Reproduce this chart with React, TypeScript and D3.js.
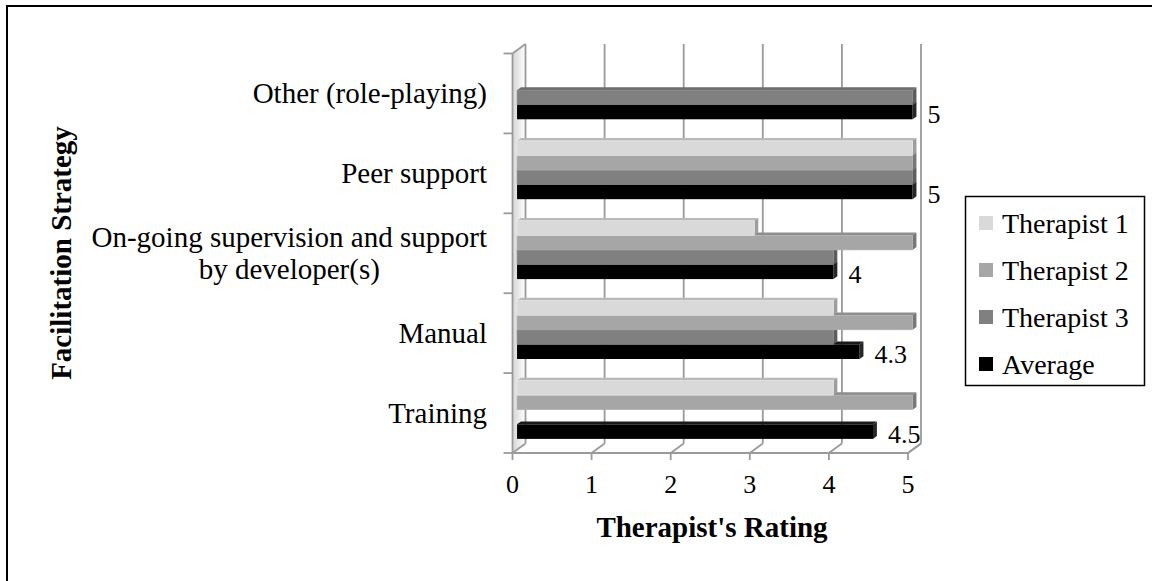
import React, { useRef, useEffect } from 'react';
import * as d3 from 'd3';

// Chart data
const categories = [
  'Other (role-playing)',
  'Peer support',
  'On-going supervision and support\nby developer(s)',
  'Manual',
  'Training',
];
const seriesNames = ['Therapist 1', 'Therapist 2', 'Therapist 3', 'Average'];
const therapist1: (number | null)[] = [null, 5, 3, 4, 4];
const therapist2: (number | null)[] = [null, 5, 5, 5, 5];
const therapist3: (number | null)[] = [5, 5, 4, 4, null];
const average: (number | null)[] = [5, 5, 4, 4.33, 4.5];
const averageLabels = ['5', '5', '4', '4.3', '4.5'];
const xTicks = [0, 1, 2, 3, 4, 5];
const colors = ['#d9d9d9', '#a6a6a6', '#808080', '#000000'];

const FONT = '"Liberation Serif", "Times New Roman", serif';

const App = () => {
  const svgRef = useRef<SVGSVGElement | null>(null);

  useEffect(() => {
    if (!svgRef.current) return;
    const svg = d3.select(svgRef.current);
    svg.selectAll('*').remove();

    const width = 1152;
    const height = 581;
    const values = [therapist1, therapist2, therapist3, average];

    // front plane of the 3D box
    const left = 512.5, right = 908, top = 53.5, bottom = 453;
    // depth offset of the back wall
    const depthX = 13, depthY = 9.5;
    const t0 = 0.35, t1 = 0.65; // depth range of the bars

    const x = d3.scaleLinear().domain([0, 5]).range([left, right]);
    const y = d3.scaleBand<string>()
      .domain(categories)
      .range([top, bottom])
      .paddingInner(0.27)
      .paddingOuter(0.135);
    const yInner = d3.scaleBand<string>()
      .domain(seriesNames)
      .range([0, y.bandwidth()]);
    const step = (bottom - top) / categories.length;

    svg.attr('width', width).attr('height', height);

    svg.append('rect')
      .attr('width', width).attr('height', height)
      .attr('fill', '#fff');

    // outer chart border (only top & left visible)
    svg.append('rect')
      .attr('x', 7).attr('y', 6)
      .attr('width', 1200).attr('height', 700)
      .attr('fill', 'none')
      .attr('stroke', '#000')
      .attr('stroke-width', 2);

    const defs = svg.append('defs');
    const grad = defs.append('linearGradient')
      .attr('id', 'wall')
      .attr('x1', '0%').attr('x2', '100%')
      .attr('y1', '0%').attr('y2', '0%');
    grad.append('stop').attr('offset', '0%').attr('stop-color', '#c4c4c4');
    grad.append('stop').attr('offset', '100%').attr('stop-color', '#ffffff');

    const gridColor = '#9a9a9a';

    // left wall
    svg.append('polygon')
      .attr('points', [
        [left, top], [left + depthX, top - depthY],
        [left + depthX, bottom - depthY], [left, bottom],
      ].map(p => p.join(',')).join(' '))
      .attr('fill', 'url(#wall)')
      .attr('opacity', 0.7);

    // back wall gridlines
    xTicks.forEach(t => {
      svg.append('line')
        .attr('x1', x(t) + depthX).attr('x2', x(t) + depthX)
        .attr('y1', top - depthY).attr('y2', bottom - depthY)
        .attr('stroke', gridColor).attr('stroke-width', 1.8);
      // floor diagonals
      svg.append('line')
        .attr('x1', x(t)).attr('y1', bottom)
        .attr('x2', x(t) + depthX).attr('y2', bottom - depthY)
        .attr('stroke', gridColor).attr('stroke-width', 1.8);
      // tick marks
      svg.append('line')
        .attr('x1', x(t)).attr('x2', x(t))
        .attr('y1', bottom).attr('y2', bottom + 7)
        .attr('stroke', gridColor).attr('stroke-width', 1.8);
      svg.append('text')
        .attr('x', x(t)).attr('y', bottom + 40)
        .attr('text-anchor', 'middle')
        .attr('font-family', FONT).attr('font-size', 26)
        .text(t);
    });

    // left wall edges + axes
    svg.append('line')
      .attr('x1', left).attr('y1', top).attr('x2', left + depthX).attr('y2', top - depthY)
      .attr('stroke', gridColor).attr('stroke-width', 1.8);
    svg.append('line')
      .attr('x1', left).attr('y1', top).attr('x2', left).attr('y2', bottom)
      .attr('stroke', gridColor).attr('stroke-width', 1.8);
    svg.append('line')
      .attr('x1', left).attr('y1', bottom).attr('x2', right).attr('y2', bottom)
      .attr('stroke', gridColor).attr('stroke-width', 1.8);
    d3.range(categories.length + 1).forEach(i => {
      svg.append('line')
        .attr('x1', left - 9).attr('x2', left)
        .attr('y1', top + i * step).attr('y2', top + i * step)
        .attr('stroke', gridColor).attr('stroke-width', 1.8);
    });

    // bars, drawn from the bottom series up so the upper bars cover the top faces
    const dx = depthX * (t1 - t0);
    const dy = depthY * (t1 - t0);
    const barG = svg.append('g');
    categories.forEach((cat, ci) => {
      for (let si = seriesNames.length - 1; si >= 0; si--) {
        const v = values[si][ci];
        if (v == null) continue;
        const fill = colors[si];
        const h = yInner.bandwidth();
        const yt = (y(cat) as number) + (yInner(seriesNames[si]) as number) - depthY * t0;
        const x0 = x(0) + depthX * t0;
        const x1 = x(v) + depthX * t0;
        const topFill = si === 3 ? '#1a1a1a' : d3.color(fill)!.darker(0.45).toString();
        const sideFill = si === 3 ? '#262626' : d3.color(fill)!.darker(0.9).toString();

        barG.append('polygon')
          .attr('points', [[x0, yt], [x1, yt], [x1 + dx, yt - dy], [x0 + dx, yt - dy]]
            .map(p => p.join(',')).join(' '))
          .attr('fill', topFill);
        barG.append('polygon')
          .attr('points', [[x1, yt], [x1 + dx, yt - dy], [x1 + dx, yt + h - dy], [x1, yt + h]]
            .map(p => p.join(',')).join(' '))
          .attr('fill', sideFill);
        barG.append('rect')
          .attr('x', x0).attr('y', yt)
          .attr('width', x1 - x0).attr('height', h)
          .attr('fill', fill)
          .attr('stroke', si === 3 ? 'none' : d3.color(fill)!.brighter(0.2).toString())
          .attr('stroke-width', 0.6);

        if (si === 3) {
          barG.append('text')
            .attr('x', x(v) + depthX * t0 + 15)
            .attr('y', yt + h / 2 + 11)
            .attr('font-family', FONT).attr('font-size', 26)
            .text(averageLabels[ci]);
        }
      }
    });

    // right edge of the back wall
    svg.append('line')
      .attr('x1', right + depthX).attr('y1', bottom - depthY)
      .attr('x2', right).attr('y2', bottom)
      .attr('stroke', gridColor).attr('stroke-width', 1.8);

    // category labels
    categories.forEach(cat => {
      const lines = cat.split('\n');
      const cy = (y(cat) as number) + y.bandwidth() / 2;
      const lineH = 32;
      const t = svg.append('text')
        .attr('font-family', FONT).attr('font-size', 29)
        .attr('text-anchor', 'end');
      if (lines.length === 1) {
        t.attr('x', 487).attr('y', cy + 9.5).text(lines[0]);
      } else {
        // multi-line label: lines centred on each other, block right-aligned
        const base = cy + 9.5 - (lines.length - 1) * lineH / 2;
        t.attr('text-anchor', 'middle');
        const tmp = svg.append('text')
          .attr('font-family', FONT).attr('font-size', 29)
          .text(lines.reduce((a, b) => (a.length > b.length ? a : b)));
        const w = (tmp.node() as SVGTextElement).getComputedTextLength();
        tmp.remove();
        lines.forEach((ln, i) => {
          t.append('tspan')
            .attr('x', 487 - w / 2)
            .attr('y', base + i * lineH)
            .text(ln);
        });
      }
    });

    // axis titles
    svg.append('text')
      .attr('x', 712).attr('y', 537)
      .attr('text-anchor', 'middle')
      .attr('font-family', FONT).attr('font-size', 29)
      .attr('font-weight', 'bold')
      .text("Therapist's Rating");

    svg.append('text')
      .attr('transform', 'translate(71,253) rotate(-90)')
      .attr('text-anchor', 'middle')
      .attr('font-family', FONT).attr('font-size', 29)
      .attr('font-weight', 'bold')
      .text('Facilitation Strategy');

    // legend
    const legend = svg.append('g');
    legend.append('rect')
      .attr('x', 965.5).attr('y', 196.5)
      .attr('width', 179).attr('height', 189)
      .attr('fill', '#fff')
      .attr('stroke', '#000').attr('stroke-width', 1.5);
    seriesNames.forEach((name, i) => {
      const cy = 223 + i * 47;
      legend.append('rect')
        .attr('x', 979).attr('y', cy - 7)
        .attr('width', 14).attr('height', 14)
        .attr('fill', colors[i]);
      legend.append('text')
        .attr('x', 1002).attr('y', cy + 9.5)
        .attr('font-family', FONT).attr('font-size', 28)
        .text(name);
    });
  }, []);

  return (
    <svg
      ref={svgRef}
      style={{ position: 'absolute', left: 0, top: 0, display: 'block' }}
    />
  );
};

export default App;
